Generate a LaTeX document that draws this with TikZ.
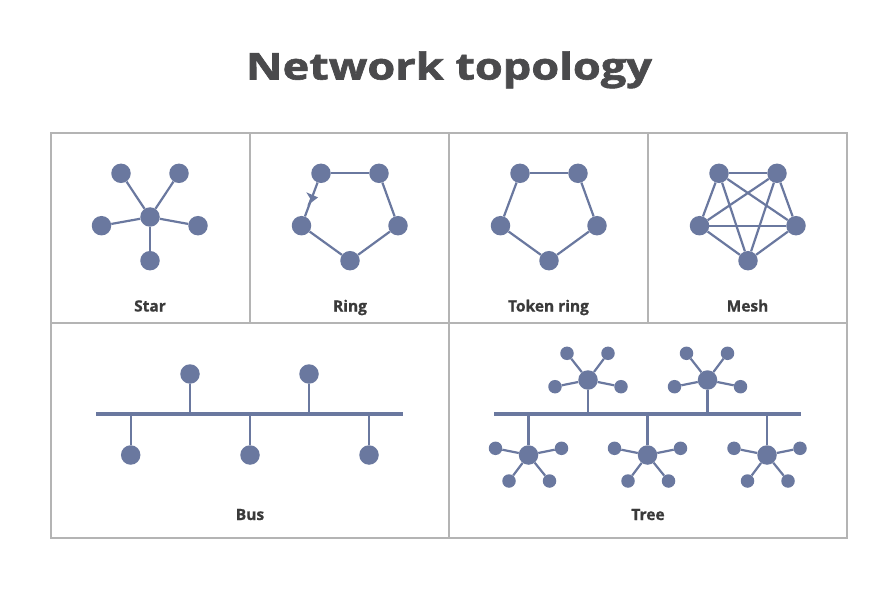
\documentclass[tikz,border=0pt]{standalone}
\usepackage{fontspec}
\usepackage{graphicx}
\setmainfont{Open Sans}
\newfontfamily\heavyfont{Open Sans}[BoldFeatures={FakeBold=1.6}]
\newfontfamily\lblfont{Open Sans}[BoldFeatures={FakeBold=0.8}]
\definecolor{nd}{HTML}{6A789F}
\definecolor{gridc}{HTML}{B4B4B4}
\definecolor{txt}{HTML}{3A3A3A}
\definecolor{ttl}{HTML}{4A4A4C}
\begin{document}
\begin{tikzpicture}[x=1pt,y=-1pt,
  dev/.style={circle,fill=nd,inner sep=0pt,minimum size=19.5pt},
  leaf/.style={circle,fill=nd,inner sep=0pt,minimum size=13.5pt},
  link/.style={draw=nd,line width=2.2pt},
  busline/.style={draw=nd,line width=3.8pt},
  cell/.style={draw=gridc,line width=1.2pt},
  lbl/.style={font=\lblfont\bfseries\fontsize{15.5}{18}\selectfont,text=txt,anchor=base,inner sep=0pt}]
\useasboundingbox (0,0) rectangle (895,607);
\fill[white] (0,0) rectangle (895,607);
\node[font=\heavyfont\bfseries\fontsize{37}{44}\selectfont,text=ttl,anchor=base,inner sep=0pt] (title) at (449,79.5) {\resizebox{406pt}{\height}{Network topology}};
% grid
\draw[cell] (51,133) rectangle (847,538);
\draw[cell] (51,323) -- (847,323);
\draw[cell] (250,133) -- (250,323);
\draw[cell] (449,133) -- (449,538);
\draw[cell] (648,133) -- (648,323);
% pentagon node sets
\foreach \n/\cx in {st/150,ri/350,tk/549,me/748}{
  \node[dev] (\n-a) at (\cx-29,173.3) {};
  \node[dev] (\n-b) at (\cx+29,173.3) {};
  \node[dev] (\n-c) at (\cx-48.5,225.7) {};
  \node[dev] (\n-d) at (\cx+48,225.7) {};
  \node[dev] (\n-e) at (\cx,260.7) {};
}
% star
\node[dev] (st-hub) at (150,217) {};
\foreach \l in {a,b,c,d,e} \draw[link] (st-hub) -- (st-\l);
% ring and token ring
\foreach \n in {ri,tk}{
  \draw[link] (\n-a) -- (\n-b);
  \draw[link] (\n-b) -- (\n-d);
  \draw[link] (\n-d) -- (\n-e);
  \draw[link] (\n-e) -- (\n-c);
  \draw[link] (\n-c) -- (\n-a);
}
\fill[nd] (306.3,192.3) -- (318,197.4) -- (307.4,205.6) -- (310.2,198.6) -- cycle;
% mesh
\foreach \p/\q in {a/b,a/c,a/d,a/e,b/c,b/d,b/e,c/d,c/e,d/e}
  \draw[link] (me-\p) -- (me-\q);
% labels
\node[lbl] (l-star) at (150,311.5) {Star};
\node[lbl] (l-ring) at (350,311.5) {Ring};
\node[lbl] (l-tok) at (548.5,311.5) {Token ring};
\node[lbl] (l-mesh) at (747.5,311.5) {Mesh};
\node[lbl] (l-bus) at (250,520) {Bus};
\node[lbl] (l-tree) at (648,520) {Tree};
% bus
\coordinate (bL) at (96,414);
\coordinate (bR) at (403,414);
\draw[busline] (bL) -- (bR);
\foreach \i/\x/\y in {1/190/374,2/309/374,3/130.7/455,4/250/455,5/369/455}{
  \node[dev] (b\i) at (\x,\y) {};
  \coordinate (bj\i) at (\x,414);
  \draw[link] (b\i) -- (bj\i);
}
% tree
\coordinate (tL) at (494,414);
\coordinate (tR) at (800.5,414);
\draw[busline] (tL) -- (tR);
\foreach \i/\x in {1/588,2/707.5}{
  \node[dev] (tu\i) at (\x,380) {};
  \coordinate (tuj\i) at (\x,414);
  \draw[link] (tu\i) -- (tuj\i);
  \foreach \k/\dx/\dy in {1/-21/-26.7,2/20/-26.7,3/-33/6.7,4/33/6.7}{
    \node[leaf] (tu\i-\k) at (\x+\dx,380+\dy) {};
    \draw[link] (tu\i) -- (tu\i-\k);
  }
}
\foreach \i/\x in {1/528.5,2/647.5,3/767}{
  \node[dev] (tl\i) at (\x,455) {};
  \coordinate (tlj\i) at (\x,414);
  \draw[link] (tl\i) -- (tlj\i);
  \foreach \k/\dx/\dy in {1/-33/-6.7,2/33/-6.7,3/-19.5/26,4/21/26}{
    \node[leaf] (tl\i-\k) at (\x+\dx,455+\dy) {};
    \draw[link] (tl\i) -- (tl\i-\k);
  }
}
\end{tikzpicture}
\end{document}
